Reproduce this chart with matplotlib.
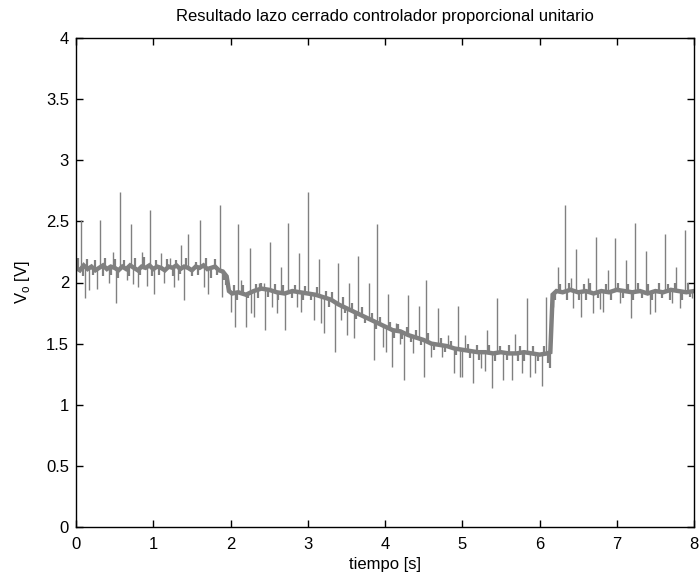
import numpy as np
import matplotlib
matplotlib.use("Agg")
import matplotlib.pyplot as plt

# Baseline (noise band centre)
t_base = [0.00, 0.05, 0.10, 0.15, 0.20, 0.25, 0.30, 0.35, 0.40, 0.45, 0.50, 0.55, 0.60, 0.65, 0.70, 0.75,
          0.80, 0.85, 0.90, 0.95, 1.00, 1.05, 1.10, 1.15, 1.20, 1.25, 1.30, 1.35, 1.40, 1.45, 1.50, 1.55,
          1.60, 1.65, 1.70, 1.75, 1.80, 1.85, 1.90, 1.95, 1.98, 2.02, 2.10, 2.20, 2.30, 2.40, 2.50, 2.60,
          2.70, 2.80, 2.90, 3.00, 3.10, 3.20, 3.30, 3.40, 3.50, 3.60, 3.70, 3.80, 3.90, 4.00, 4.10, 4.20,
          4.30, 4.40, 4.50, 4.60, 4.70, 4.80, 4.90, 5.00, 5.10, 5.20, 5.30, 5.40, 5.50, 5.60, 5.70, 5.80,
          5.90, 6.00, 6.10, 6.14, 6.17, 6.22, 6.30, 6.40, 6.50, 6.60, 6.70, 6.80, 6.90, 7.00, 7.10, 7.20,
          7.30, 7.40, 7.50, 7.60, 7.70, 7.80, 7.90, 8.00]
v_base = [2.12, 2.10, 2.14, 2.11, 2.13, 2.10, 2.12, 2.14, 2.11, 2.13, 2.12, 2.10, 2.13, 2.11, 2.14, 2.12,
          2.10, 2.13, 2.12, 2.14, 2.11, 2.13, 2.12, 2.10, 2.13, 2.12, 2.14, 2.11, 2.13, 2.12, 2.10, 2.13,
          2.12, 2.14, 2.11, 2.12, 2.13, 2.10, 2.09, 2.05, 1.93, 1.91, 1.92, 1.90, 1.93, 1.95, 1.94, 1.92,
          1.91, 1.93, 1.92, 1.91, 1.90, 1.88, 1.86, 1.82, 1.79, 1.76, 1.73, 1.70, 1.67, 1.64, 1.61, 1.60,
          1.57, 1.55, 1.53, 1.50, 1.49, 1.48, 1.46, 1.45, 1.44, 1.43, 1.43, 1.42, 1.43, 1.42, 1.42, 1.43,
          1.42, 1.41, 1.42, 1.43, 1.90, 1.93, 1.92, 1.94, 1.92, 1.93, 1.91, 1.93, 1.92, 1.94, 1.93, 1.92,
          1.93, 1.91, 1.93, 1.92, 1.94, 1.93, 1.92, 1.93]

# Large spike extremes (time, value)
spike_t = [0.065, 0.31, 0.48, 0.57, 0.71, 0.85, 0.96, 1.10, 1.22, 1.36, 1.45, 1.61, 1.86,
           0.12, 0.17, 0.27, 0.43, 0.52, 0.66, 0.74, 0.80, 0.92, 1.01, 1.14, 1.27, 1.32, 1.40, 1.66, 1.71, 1.89,
           2.10, 2.14, 2.25, 2.37, 2.43, 2.51, 2.65, 2.75, 2.89, 3.00,
           2.01, 2.06, 2.20, 2.27, 2.30, 2.45, 2.54, 2.60, 2.71, 2.86, 2.91,
           3.15, 3.39, 3.53, 3.65, 3.79, 3.90, 4.04,
           3.08, 3.17, 3.21, 3.35, 3.43, 3.51, 3.60, 3.86, 3.97,
           4.14, 4.30, 4.44, 4.53, 4.69, 4.82, 4.94,
           4.01, 4.09, 4.19, 4.25, 4.36, 4.50, 4.60, 4.74, 4.89, 4.97,
           5.04, 5.32, 5.45, 5.68, 5.84, 6.08,
           5.00, 5.14, 5.24, 5.29, 5.39, 5.53, 5.64, 5.77, 5.88, 5.94, 6.03,
           6.24, 6.33, 6.41, 6.47, 6.63, 6.73, 6.89, 6.98, 7.12, 7.24, 7.38, 7.62, 7.77, 7.88,
           6.17, 6.43, 6.54, 6.69, 6.78, 6.82, 7.04, 7.18, 7.43, 7.50, 7.72, 7.82, 7.97]
spike_v = [2.51, 2.51, 2.25, 2.74, 2.48, 2.25, 2.59, 2.24, 2.20, 2.31, 2.40, 2.51, 2.63,
           1.87, 1.94, 1.95, 2.00, 1.83, 2.02, 1.99, 1.96, 1.97, 1.91, 2.00, 1.96, 2.02, 1.86, 1.96, 1.91, 1.88,
           2.48, 2.02, 2.28, 2.00, 2.00, 2.33, 2.13, 2.49, 2.24, 2.74,
           1.76, 1.64, 1.64, 1.75, 1.72, 1.61, 1.80, 1.75, 1.61, 1.80, 1.76,
           2.19, 2.16, 2.00, 2.22, 2.00, 2.48, 1.91,
           1.69, 1.67, 1.59, 1.43, 1.69, 1.57, 1.55, 1.37, 1.47,
           1.67, 1.90, 1.81, 2.02, 1.79, 1.57, 1.81,
           1.43, 1.31, 1.50, 1.20, 1.42, 1.23, 1.39, 1.39, 1.26, 1.23,
           1.57, 1.61, 1.87, 1.58, 1.87, 1.88,
           1.23, 1.18, 1.30, 1.28, 1.14, 1.20, 1.20, 1.26, 1.23, 1.26, 1.15,
           2.13, 2.63, 2.04, 2.27, 2.04, 2.37, 2.10, 2.36, 2.18, 2.49, 2.26, 2.40, 2.13, 2.43,
           1.80, 1.79, 1.72, 1.75, 1.78, 1.76, 1.83, 1.71, 1.74, 1.76, 1.83, 1.79, 1.87]

# Small noise excursions around the band
small_t = [0.03, 0.09, 0.14, 0.22, 0.24, 0.35, 0.38, 0.45, 0.50, 0.55, 0.62, 0.68, 0.77, 0.83, 0.88, 0.98,
           1.04, 1.07, 1.18, 1.25, 1.30, 1.34, 1.42, 1.50, 1.55, 1.58, 1.68, 1.75, 1.80, 1.83, 1.92, 1.94,
           2.04, 2.08, 2.16, 2.23, 2.33, 2.35, 2.40, 2.48, 2.57, 2.62, 2.68, 2.79, 2.83, 2.94, 2.97, 3.04,
           3.12, 3.24, 3.28, 3.32, 3.45, 3.48, 3.57, 3.63, 3.70, 3.74, 3.83, 3.88, 3.94,
           4.06, 4.12, 4.17, 4.22, 4.28, 4.34, 4.40, 4.47, 4.56, 4.64, 4.72, 4.78, 4.85, 4.92,
           5.07, 5.10, 5.19, 5.22, 5.35, 5.42, 5.49, 5.58, 5.61, 5.72, 5.75, 5.80, 5.91, 5.98, 6.06, 6.11, 6.13,
           6.20, 6.27, 6.36, 6.38, 6.51, 6.57, 6.60, 6.66, 6.76, 6.86, 6.93, 7.01, 7.08, 7.15, 7.21, 7.28,
           7.33, 7.41, 7.46, 7.55, 7.58, 7.66, 7.69, 7.75, 7.85, 7.92, 7.95]
small_v = [2.20, 2.05, 2.19, 2.06, 2.18, 2.05, 2.20, 2.06, 2.19, 2.04, 2.18, 2.05, 2.20, 2.06, 2.21, 2.05,
           2.18, 2.06, 2.19, 2.05, 2.18, 2.07, 2.20, 2.05, 2.17, 2.06, 2.20, 2.04, 2.19, 2.06, 2.02, 1.98,
           1.98, 1.86, 1.98, 1.87, 1.99, 1.87, 2.00, 1.88, 1.99, 1.86, 1.98, 1.87, 1.98, 1.86, 1.97, 1.86,
           1.96, 1.93, 1.80, 1.92, 1.88, 1.75, 1.83, 1.70, 1.80, 1.67, 1.75, 1.62, 1.72,
           1.68, 1.55, 1.66, 1.54, 1.64, 1.51, 1.61, 1.49, 1.59, 1.45, 1.55, 1.43, 1.52, 1.41,
           1.50, 1.38, 1.49, 1.37, 1.49, 1.36, 1.48, 1.37, 1.49, 1.36, 1.48, 1.36, 1.48, 1.36, 1.48, 1.34, 1.30,
           1.86, 1.99, 1.86, 2.00, 1.86, 1.99, 1.86, 2.00, 1.87, 1.99, 1.86, 2.00, 1.87, 1.99, 1.86, 2.00,
           1.87, 1.99, 1.86, 2.00, 1.87, 1.99, 1.86, 2.00, 1.86, 2.00, 1.88]

x_ticks = [0, 1, 2, 3, 4, 5, 6, 7, 8]
y_ticks = [0, 0.5, 1, 1.5, 2, 2.5, 3, 3.5, 4]
y_tick_labels = ["0", "0.5", "1", "1.5", "2", "2.5", "3", "3.5", "4"]

plt.rcParams['font.family'] = ['Liberation Sans', 'DejaVu Sans']

fig = plt.figure(figsize=(6.99, 5.83), dpi=100)
ax = fig.add_axes([76/699, 56/583, 618/699, 489/583])

col = '#808080'
ax.plot(t_base, v_base, color=col, lw=3.2, solid_joinstyle='miter')
anchor = np.interp(spike_t, t_base, v_base)
ax.vlines(spike_t, anchor, spike_v, color=col, lw=1.0)
anchor_s = np.interp(small_t, t_base, v_base)
ax.vlines(small_t, anchor_s, small_v, color=col, lw=1.6)

ax.set_xlim(0, 8)
ax.set_ylim(0, 4)
ax.set_xticks(x_ticks)
ax.set_yticks(y_ticks)
ax.set_yticklabels(y_tick_labels)
ax.tick_params(direction='in', top=True, right=True, length=5, width=1, labelsize=12)
ax.tick_params(axis='x', pad=7)
ax.tick_params(axis='y', pad=5)
for s in ax.spines.values():
    s.set_linewidth(1.0)

ax.set_title("Resultado lazo cerrado controlador proporcional unitario", fontsize=12, pad=12)
ax.set_xlabel("tiempo [s]", fontsize=12, labelpad=4)
ax.set_ylabel("V$_\\mathregular{o}$ [V]", fontsize=12, labelpad=10)

fig.savefig("out.png", dpi=100)
